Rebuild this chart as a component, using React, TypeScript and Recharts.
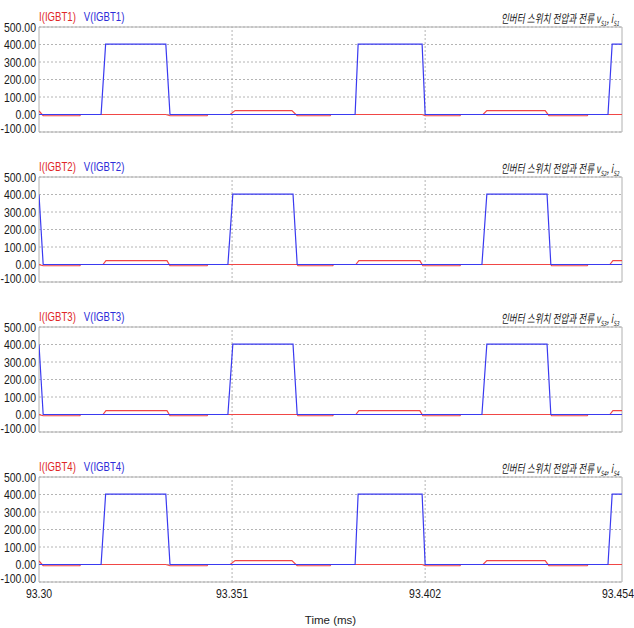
import { LineChart, Line, XAxis, YAxis, CartesianGrid, ReferenceArea, ReferenceLine } from "recharts";

// time (ms), value
const iIgbt1: [number, number][] = [
  [93.3, 20], [93.3011, -7], [93.3108, -7], [93.311, 0], [93.3335, 0], [93.3346, -7],
  [93.3444, -7], [93.3446, 0], [93.3505, 0], [93.3518, 22], [93.3668, 22], [93.3682, -7],
  [93.3769, -7], [93.3771, 0], [93.4012, 0], [93.402, -7], [93.4112, -7], [93.4114, 0],
  [93.4173, 0], [93.4183, 22], [93.4337, 22], [93.4347, -7], [93.4448, -7], [93.445, 0],
  [93.454, 0],
];
const vIgbt1: [number, number][] = [
  [93.3, 0], [93.3164, 0], [93.3176, 402], [93.3335, 402], [93.3346, 0], [93.3835, 0],
  [93.3843, 402], [93.4012, 402], [93.402, 0], [93.4503, 0], [93.4514, 402], [93.454, 402],
];

const iIgbt2: [number, number][] = [
  [93.3, 0], [93.3011, -7], [93.3108, -7], [93.311, 0], [93.3169, 0], [93.3177, 22],
  [93.3338, 22], [93.3346, -7], [93.3444, -7], [93.3446, 0], [93.3682, 0], [93.3684, -7],
  [93.3776, -7], [93.3778, 0], [93.3837, 0], [93.3845, 22], [93.4006, 22], [93.4014, -7],
  [93.4112, -7], [93.4114, 0], [93.4352, 0], [93.4354, -7], [93.4448, -7], [93.445, 0],
  [93.4508, 0], [93.4516, 22], [93.454, 22],
];
const vIgbt2: [number, number][] = [
  [93.3, 400], [93.3011, 0], [93.3499, 0], [93.3512, 402], [93.3671, 402], [93.3682, 0],
  [93.417, 0], [93.4183, 402], [93.4342, 402], [93.4352, 0], [93.454, 0],
];

const iIgbt3: [number, number][] = [
  [93.3, 0], [93.3011, -7], [93.3108, -7], [93.311, 0], [93.3169, 0], [93.3177, 22],
  [93.3338, 22], [93.3346, -7], [93.3444, -7], [93.3446, 0], [93.3682, 0], [93.3684, -7],
  [93.3776, -7], [93.3778, 0], [93.3837, 0], [93.3845, 22], [93.4006, 22], [93.4014, -7],
  [93.4112, -7], [93.4114, 0], [93.4352, 0], [93.4354, -7], [93.4448, -7], [93.445, 0],
  [93.4508, 0], [93.4516, 22], [93.454, 22],
];
const vIgbt3: [number, number][] = [
  [93.3, 400], [93.3011, 0], [93.3499, 0], [93.3512, 402], [93.3671, 402], [93.3682, 0],
  [93.417, 0], [93.4183, 402], [93.4342, 402], [93.4352, 0], [93.454, 0],
];

const iIgbt4: [number, number][] = [
  [93.3, 20], [93.3011, -7], [93.3108, -7], [93.311, 0], [93.3335, 0], [93.3346, -7],
  [93.3444, -7], [93.3446, 0], [93.3505, 0], [93.3518, 22], [93.3668, 22], [93.3682, -7],
  [93.3769, -7], [93.3771, 0], [93.4012, 0], [93.402, -7], [93.4112, -7], [93.4114, 0],
  [93.4173, 0], [93.4183, 22], [93.4337, 22], [93.4347, -7], [93.4448, -7], [93.445, 0],
  [93.454, 0],
];
const vIgbt4: [number, number][] = [
  [93.3, 0], [93.3164, 0], [93.3176, 402], [93.3335, 402], [93.3346, 0], [93.3835, 0],
  [93.3843, 402], [93.4012, 402], [93.402, 0], [93.4503, 0], [93.4514, 402], [93.454, 402],
];

const yTicks = [-100, 0, 100, 200, 300, 400, 500];
const xTicks = [93.3, 93.351, 93.402, 93.454];
const xTickLabels = ["93.30", "93.351", "93.402", "93.454"];
const xGrid = [93.351, 93.402];

const RED = "#f04646";
const BLUE = "#3a3af0";
const FONT = "'Liberation Sans', Arial, sans-serif";
const SQUEEZE = 0.84; // the source font is a narrow one

const toPts = (a: [number, number][]) => a.map(([t, v]) => ({ t, v }));

const panels = [
  { name: "IGBT1", sub: "S1", i: iIgbt1, v: vIgbt1 },
  { name: "IGBT2", sub: "S2", i: iIgbt2, v: vIgbt2 },
  { name: "IGBT3", sub: "S3", i: iIgbt3, v: vIgbt3 },
  { name: "IGBT4", sub: "S4", i: iIgbt4, v: vIgbt4 },
];

function YTick({ x, y, payload }: any) {
  const yy = payload.value === -100 ? y - 4 : y;
  return (
    <g transform={`translate(${x},${yy})`}>
      <text transform={`scale(${SQUEEZE},1)`} textAnchor="end" dy="0.36em" fontSize={12.5} fill="#1a1a1a" fontFamily={FONT}>
        {payload.value.toFixed(2)}
      </text>
    </g>
  );
}

function XTick({ x, y, payload }: any) {
  // last label sits on the right edge, nudge it so it stays readable
  const xx = payload.value === 93.454 ? x - 4 : x;
  return (
    <g transform={`translate(${xx},${y})`}>
      <text transform={`scale(${SQUEEZE},1)`} textAnchor="middle" dy="0.71em" fontSize={12.5} fill="#1a1a1a" fontFamily={FONT}>
        {xTickLabels[xTicks.indexOf(payload.value)] ?? String(payload.value)}
      </text>
    </g>
  );
}

function Panel({ idx, name, sub, iData, vData, last }: any) {
  const h = last ? 178 : 150;
  return (
    <div style={{ position: "absolute", left: 0, top: idx * 150, width: 634, height: h }}>
      <LineChart width={634} height={h} margin={{ top: 27, right: 12, bottom: last ? 0 : 18, left: 0 }}>
        <CartesianGrid stroke="#b4b4b4" strokeDasharray="2 2" vertical={false} />
        {xGrid.map((g) => (
          <ReferenceLine key={g} x={g} stroke="#b4b4b4" strokeDasharray="2 2" />
        ))}
        <XAxis
          type="number"
          dataKey="t"
          domain={[93.3, 93.454]}
          ticks={xTicks}
          allowDataOverflow
          interval={0}
          height={last ? 46 : 0}
          tick={last ? <XTick /> : false}
          axisLine={false}
          tickLine={false}
          tickSize={0}
          tickMargin={7}
          label={
            last
              ? { value: "Time (ms)", position: "insideBottom", offset: 4, fontSize: 11.5, fill: "#222", fontFamily: FONT }
              : undefined
          }
        />
        <YAxis
          type="number"
          domain={[-100, 500]}
          ticks={yTicks}
          interval={0}
          width={39}
          axisLine={false}
          tickLine={false}
          tickSize={0}
          tickMargin={3}
          tick={<YTick />}
        />
        <ReferenceArea x1={93.3} x2={93.454} y1={-100} y2={500} fill="none" stroke="#b0b0b0" />
        <Line data={toPts(iData)} dataKey="v" type="linear" stroke={RED} strokeWidth={1.2} dot={false} isAnimationActive={false} />
        <Line data={toPts(vData)} dataKey="v" type="linear" stroke={BLUE} strokeWidth={1.2} dot={false} isAnimationActive={false} />
      </LineChart>
      <div
        style={{
          position: "absolute",
          left: 39,
          top: 10,
          fontFamily: FONT,
          fontSize: 12,
          lineHeight: "14px",
          whiteSpace: "nowrap",
          transform: "scaleX(0.8)",
          transformOrigin: "left center",
        }}
      >
        <span style={{ color: "#e02828" }}>I({name})</span>
        <span style={{ color: "#2c2cd8", marginLeft: 10 }}>V({name})</span>
      </div>
      <div
        style={{
          position: "absolute",
          right: 15,
          top: 11,
          fontFamily: "'Noto Sans CJK KR', sans-serif",
          fontSize: 12,
          fontStyle: "italic",
          color: "#222",
          whiteSpace: "nowrap",
          transform: "scaleX(0.72)",
          transformOrigin: "right center",
          lineHeight: "14px",
        }}
      >
        인버터 스위치 전압과 전류 <i>v</i>
        <sub style={{ fontSize: 7 }}>{sub}</sub>, <i>i</i>
        <sub style={{ fontSize: 7 }}>{sub}</sub>
      </div>
    </div>
  );
}

export default function App() {
  return (
    <div style={{ position: "absolute", left: 0, top: 0, width: 634, height: 628, background: "#fff", overflow: "hidden" }}>
      {panels.map((p, k) => (
        <Panel key={p.name} idx={k} name={p.name} sub={p.sub} iData={p.i} vData={p.v} last={k === 3} />
      ))}
    </div>
  );
}
